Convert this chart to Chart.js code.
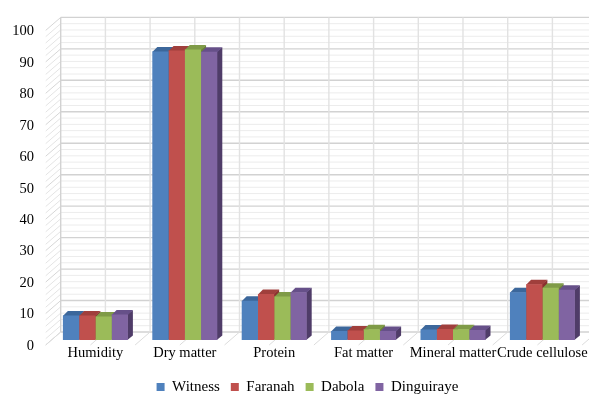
<!DOCTYPE html>
<html>
<head>
<meta charset="utf-8">
<script src="https://cdn.jsdelivr.net/npm/chart.js@4.4.1/dist/chart.umd.min.js"></script>
<style>
  html, body { margin: 0; padding: 0; background: #ffffff; }
  #c { display: block; }
</style>
</head>
<body>
<canvas id="c" width="589" height="397"></canvas>
<script>
// Composition categories and the four sampling origins
const categories = ['Humidity', 'Dry matter', 'Protein', 'Fat matter', 'Mineral matter', 'Crude cellulose'];
const seriesNames = ['Witness', 'Faranah', 'Dabola', 'Dinguiraye'];

const witness    = [7.8, 91.7, 12.5, 2.9, 3.3, 15.2];
const faranah    = [7.8, 92.0, 14.6, 3.0, 3.5, 17.7];
const dabola     = [7.5, 92.3, 13.8, 3.4, 3.4, 16.6];
const dinguiraye = [8.1, 91.6, 15.2, 2.9, 3.2, 16.0];

const yMin = 0;
const yMax = 100;
const yStep = 10;
const yMinorStep = 2;

// Office-style palette: front, top and side faces of each column
const frontColors = ['#4F81BD', '#C0504D', '#9BBB59', '#8064A2'];
const topColors   = ['#3C679B', '#A03F3C', '#7F9B47', '#665089'];
const sideColors  = ['#2F5383', '#8A3230', '#6A8239', '#4F3C68'];

// Perspective offsets (pixels) relative to the plane of the column fronts
const FRONT = { dx: -5, dy: 5 };
const BACK = { dx: 10, dy: -8 };
const DEPTH = { dx: 5, dy: -4.5 };

const AXIS_FONT = { family: '"Liberation Serif", "Times New Roman", serif', size: 14.5 };
const LEGEND_FONT = { family: '"Liberation Serif", "Times New Roman", serif', size: 15 };

// Back wall, side wall, floor and column depth faces
const box3d = {
  id: 'box3d',
  afterLayout(chart) {
    // legend sits a little right of the canvas centre
    if (chart.legend) {
      chart.legend.left += 27.9;
    }
  },
  beforeDatasetsDraw(chart) {
    const ctx = chart.ctx;
    const xs = chart.scales.x;
    const ys = chart.scales.y;
    const L = xs.left;
    const R = xs.right;
    const yTop = ys.getPixelForValue(yMax);
    const yZero = ys.getPixelForValue(yMin);
    ctx.save();
    ctx.lineCap = 'butt';

    // horizontal lines: back wall and the slanted side wall
    for (let v = yMin; v <= yMax + 1e-9; v += yMinorStep) {
      const py = ys.getPixelForValue(v);
      const major = Math.abs(v / yStep - Math.round(v / yStep)) < 1e-6;
      ctx.strokeStyle = major ? '#d2d2d2' : '#ececec';
      ctx.lineWidth = major ? 1.4 : 1;
      ctx.beginPath();
      ctx.moveTo(L + BACK.dx, py + BACK.dy);
      ctx.lineTo(R + BACK.dx + 30, py + BACK.dy);
      ctx.stroke();

      ctx.strokeStyle = major ? '#d6d6d6' : '#e4e4e4';
      ctx.lineWidth = 1;
      ctx.beginPath();
      ctx.moveTo(L + FRONT.dx, py + FRONT.dy);
      ctx.lineTo(L + BACK.dx, py + BACK.dy);
      ctx.stroke();
    }

    // vertical back-wall lines and floor lines at every half category
    const n = categories.length;
    const half = (R - L) / n / 2;
    for (let k = 0; k <= 2 * n + 1; k++) {
      const px = L + k * half;
      ctx.strokeStyle = k === 0 ? '#d2d2d2' : '#e2e2e2';
      ctx.lineWidth = 1.4;
      ctx.beginPath();
      ctx.moveTo(px + BACK.dx, yTop + BACK.dy);
      ctx.lineTo(px + BACK.dx, yZero + BACK.dy);
      ctx.stroke();

      ctx.strokeStyle = '#dcdcdc';
      ctx.lineWidth = 1;
      ctx.beginPath();
      ctx.moveTo(px + FRONT.dx, yZero + FRONT.dy);
      ctx.lineTo(px + BACK.dx, yZero + BACK.dy);
      ctx.stroke();
    }

    // side and top faces of every column (fronts are drawn by Chart.js afterwards)
    chart.data.datasets.forEach((ds, di) => {
      const meta = chart.getDatasetMeta(di);
      meta.data.forEach(bar => {
        const p = bar.getProps(['x', 'y', 'base', 'width'], true);
        const x0 = p.x - p.width / 2;
        const x1 = p.x + p.width / 2;
        ctx.fillStyle = sideColors[di];
        ctx.beginPath();
        ctx.moveTo(x1 - 0.5, p.y);
        ctx.lineTo(x1 + DEPTH.dx, p.y + DEPTH.dy);
        ctx.lineTo(x1 + DEPTH.dx, p.base + DEPTH.dy);
        ctx.lineTo(x1 - 0.5, p.base);
        ctx.closePath();
        ctx.fill();

        ctx.fillStyle = topColors[di];
        ctx.beginPath();
        ctx.moveTo(x0, p.y + 0.5);
        ctx.lineTo(x1, p.y + 0.5);
        ctx.lineTo(x1 + DEPTH.dx, p.y + DEPTH.dy);
        ctx.lineTo(x0 + DEPTH.dx, p.y + DEPTH.dy);
        ctx.closePath();
        ctx.fill();
      });
    });
    ctx.restore();
  }
};

const seriesValues = [witness, faranah, dabola, dinguiraye];

new Chart(document.getElementById('c'), {
  type: 'bar',
  data: {
    labels: categories,
    datasets: seriesNames.map((name, i) => ({
      label: name,
      data: seriesValues[i],
      backgroundColor: frontColors[i],
      borderWidth: 0,
      categoryPercentage: 0.727,
      barPercentage: 1.0
    }))
  },
  options: {
    responsive: false,
    animation: false,
    devicePixelRatio: 1,
    layout: { padding: { top: 21, left: 0, right: 1.9, bottom: 0 } },
    scales: {
      x: {
        grid: { display: false, drawTicks: false },
        border: { display: false },
        ticks: { padding: 4, autoSkip: false, maxRotation: 0, minRotation: 0, color: '#000000', font: AXIS_FONT },
        afterFit(s) { s.height = 28.5; s.paddingLeft = 0; s.paddingRight = 0; }
      },
      y: {
        min: yMin,
        max: yMax,
        grid: { display: false, drawTicks: false },
        border: { display: false },
        ticks: { stepSize: yStep, padding: 16.7, labelOffset: 6, color: '#000000', font: AXIS_FONT },
        afterFit(s) { s.width = 50.7; }
      }
    },
    plugins: {
      legend: {
        position: 'bottom',
        maxHeight: 28.5,
        labels: { boxWidth: 8, boxHeight: 8, padding: 11, color: '#000000', font: LEGEND_FONT }
      },
      tooltip: { enabled: false }
    }
  },
  plugins: [box3d]
});
</script>
</body>
</html>
